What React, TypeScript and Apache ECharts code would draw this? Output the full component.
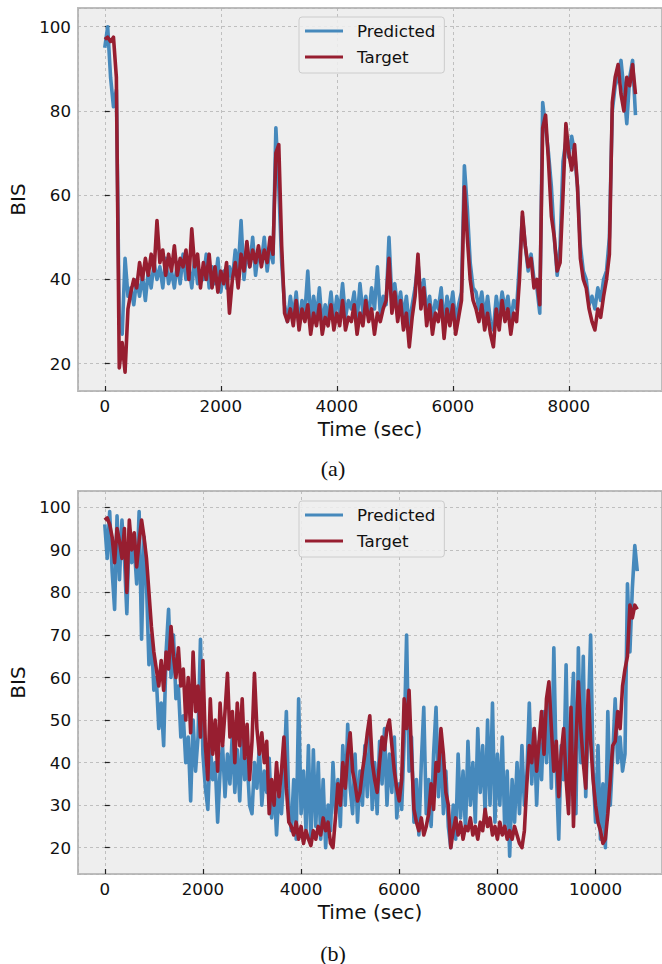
import React, { useEffect, useRef } from 'react';
import * as echarts from 'echarts';

// sampling step (seconds) of the value arrays below
const STEP = 50;

const timeTicksA = [0, 2000, 4000, 6000, 8000];
const timeTicksB = [0, 2000, 4000, 6000, 8000, 10000];
const bisTicksA = [20, 40, 60, 80, 100];
const bisTicksB = [20, 30, 40, 50, 60, 70, 80, 90, 100];
const legendNames = ['Predicted', 'Target'];

// (a) — one value every 50 s, from 0 to 9150 s
const predictedA = [
  95, 100, 88, 81, 85, 30, 27, 45, 36, 38,
  34, 40, 36, 41, 35, 42, 38, 44, 40, 43,
  38, 45, 39, 42, 38, 44, 39, 46, 40, 43,
  38, 45, 39, 42, 40, 46, 38, 43, 39, 45,
  37, 42, 38, 43, 40, 47, 42, 54, 40, 47,
  43, 50, 41, 47, 44, 50, 42, 48, 44, 76,
  62, 44, 34, 30, 36, 31, 37, 29, 35, 32,
  42, 30, 36, 31, 38, 29, 34, 31, 37, 30,
  36, 32, 39, 31, 35, 33, 37, 30, 39, 32,
  36, 31, 38, 33, 43, 32, 36, 34, 50, 35,
  39, 33, 37, 31, 36, 29, 34, 38, 44, 36,
  40, 32, 36, 30, 35, 33, 38, 29, 36, 32,
  37, 30, 34, 37, 67, 57, 44, 38, 37, 33,
  37, 31, 36, 30, 28, 36, 31, 37, 33, 36,
  30, 35, 33, 44, 55, 48, 42, 46, 40, 38,
  32, 82, 76, 70, 62, 50, 41, 48, 68, 73,
  69, 74, 70, 62, 48, 42, 40, 34, 36, 33,
  38, 35, 40, 42, 50, 80, 86, 88, 92, 85,
  77, 88, 92, 79,
];
const targetA = [
  97, 97.5, 96.5, 97.5, 88, 19, 25, 18, 33, 37,
  40, 38, 44, 40, 45, 41, 46, 42, 54, 44,
  47, 41, 46, 42, 48, 41, 45, 43, 47, 40,
  52, 43, 46, 38, 44, 40, 46, 38, 43, 37,
  42, 39, 44, 32, 40, 44, 38, 46, 42, 49,
  43, 47, 44, 48, 43, 47, 44, 50, 46, 70,
  72, 48, 32, 30, 33, 29, 35, 28, 33, 30,
  34, 27, 32, 29, 34, 27, 31, 29, 34, 28,
  32, 29, 35, 28, 31, 30, 34, 27, 32, 29,
  35, 30, 33, 27, 32, 30, 33, 35, 45, 32,
  37, 30, 35, 28, 32, 24, 31, 36, 46, 33,
  38, 29, 34, 27, 32, 30, 35, 26, 33, 29,
  34, 27, 31, 35, 62, 50, 40, 35, 33, 30,
  34, 28, 32, 27, 24, 33, 28, 35, 30, 33,
  27, 32, 30, 40, 56, 48, 43, 45, 38, 40,
  34, 76, 79, 68, 55, 50, 42, 44, 60, 77,
  70, 66, 72, 62, 45, 40, 38, 33, 30, 28,
  33, 31, 36, 40, 46, 82, 88, 91, 84, 80,
  88, 86, 91, 84,
];

// (b) — one value every 50 s, from 0 to 10850 s
const predictedB = [
  96, 88, 99, 85, 76, 98, 83, 97, 88, 75,
  95, 87, 91, 82, 99, 69, 93, 82, 63, 70,
  57, 60, 48, 54, 44, 66, 76, 60, 70, 55,
  58, 46, 51, 40, 46, 31, 50, 38, 46, 69,
  42, 34, 29, 44, 36, 40, 26, 38, 44, 32,
  42, 35, 47, 33, 43, 31, 46, 36, 41, 30,
  28, 40, 34, 44, 30, 38, 33, 41, 27, 35,
  23, 34, 28, 37, 52, 30, 24, 36, 22, 55,
  28, 38, 24, 44, 21, 43, 25, 40, 22, 36,
  20, 30, 24, 40, 28, 36, 25, 44, 30, 49,
  34, 28, 42, 26, 38, 30, 44, 32, 48, 29,
  40, 28, 45, 35, 48, 30, 42, 33, 46, 27,
  35, 29, 45, 70, 38, 46, 26, 36, 23, 40,
  53, 28, 36, 25, 42, 53, 32, 45, 28, 38,
  25, 20, 30, 22, 42, 27, 38, 24, 45, 30,
  40, 26, 48, 33, 44, 28, 50, 30, 54, 26,
  42, 30, 46, 24, 38, 18, 36, 26, 40, 28,
  44, 30, 37, 54, 35, 48, 30, 45, 36, 52,
  40, 56, 34, 67, 38, 22, 44, 36, 63, 30,
  48, 61, 28, 67, 40, 65, 32, 50, 70, 38,
  26, 44, 22, 35, 20, 52, 30, 42, 55, 40,
  46, 38, 42, 82, 66, 81, 91, 85,
];
const targetB = [
  97, 97.5, 96, 93, 87, 95, 92, 88, 95, 80,
  97, 90, 94, 86, 92, 97, 93, 88, 80, 72,
  66, 62, 58, 64, 57, 66, 62, 72, 65, 60,
  67, 58, 62, 50, 60, 47, 66, 52, 58, 46,
  64, 44, 36, 55, 42, 50, 38, 54, 44, 52,
  61, 46, 52, 40, 54, 44, 55, 41, 49, 36,
  45, 61, 48, 42, 47, 40, 45, 28, 36, 30,
  40, 32, 38, 46, 34, 26, 25, 23, 26, 22,
  25, 21, 24, 22, 20.5, 24, 22, 25, 23, 27,
  24, 26, 21, 20, 27, 35, 30, 40, 34, 42,
  47, 38, 35, 31, 33, 38, 42, 47, 51, 40,
  36, 33, 40, 46, 43, 48, 50, 44, 38, 34,
  31, 36, 55, 48, 57, 42, 29, 26, 24, 27,
  23, 25, 28, 35, 29, 40, 38, 48, 42, 33,
  30, 20, 24, 27, 23, 26, 22, 25, 24, 27,
  23, 25, 22, 26, 24, 29, 25, 27, 23, 25,
  22, 26, 23, 25, 22, 24, 22, 25, 23, 21,
  20, 24, 35, 44, 40, 48, 38, 45, 52, 42,
  55, 59, 48, 38, 45, 32, 42, 48, 36, 28,
  53, 25, 44, 59, 48, 40, 34, 57, 45, 36,
  30, 26, 24, 21, 22, 28, 36, 44, 45, 52,
  48, 58, 62, 65, 77, 74, 77, 76,
];

const BLUE = '#4689BC';
const RED = '#971E30';
const FONT = 'DejaVu Sans';

const toPairs = (arr: number[]) => arr.map((v, i) => [i * STEP, v]);

function xAxisFor(gridIndex: number, min: number, max: number, ticks: number[]) {
  return {
    type: 'value',
    gridIndex,
    min,
    max,
    minInterval: 2000,
    maxInterval: 2000,
    name: 'Time (sec)',
    nameLocation: 'middle',
    nameGap: 28,
    nameTextStyle: { fontFamily: FONT, fontSize: 20, color: '#111' },
    axisLine: { show: false },
    axisTick: { show: true, inside: true, length: 5, lineStyle: { color: '#222', width: 1.2 } },
    axisLabel: {
      margin: 6,
      fontFamily: FONT,
      fontSize: 16.7,
      color: '#111',
      showMinLabel: false,
      showMaxLabel: false,
      formatter: (v: number) => (ticks.indexOf(Math.round(v)) >= 0 ? String(Math.round(v)) : ''),
    },
    splitLine: { show: true, lineStyle: { color: '#B2B2B2', type: [3, 3], width: 0.8 } },
  };
}

function yAxisFor(gridIndex: number, min: number, max: number, step: number, ticks: number[]) {
  return {
    type: 'value',
    gridIndex,
    min,
    max,
    minInterval: step,
    maxInterval: step,
    name: 'BIS',
    nameLocation: 'middle',
    nameGap: 45,
    nameTextStyle: { fontFamily: FONT, fontSize: 20, color: '#111' },
    axisLine: { show: false },
    axisTick: { show: true, inside: true, length: 5, lineStyle: { color: '#222', width: 1.2 } },
    axisLabel: {
      margin: 7,
      fontFamily: FONT,
      fontSize: 16.7,
      color: '#111',
      showMinLabel: false,
      showMaxLabel: false,
      formatter: (v: number) => (ticks.indexOf(Math.round(v)) >= 0 ? String(Math.round(v)) : ''),
    },
    splitLine: { show: true, lineStyle: { color: '#B2B2B2', type: [3, 3], width: 0.8 } },
  };
}

function legendFor(top: number) {
  return {
    data: legendNames,
    orient: 'vertical',
    left: 299,
    top,
    icon: 'rect',
    itemWidth: 38,
    itemHeight: 3,
    itemGap: 6,
    padding: [4, 9, 6, 6],
    backgroundColor: 'rgba(238,238,238,0.85)',
    borderColor: '#CCCCCC',
    borderWidth: 1,
    borderRadius: 3,
    selectedMode: false,
    textStyle: {
      fontFamily: FONT,
      fontSize: 16.7,
      color: '#111',
      lineHeight: 20,
      padding: [0, 0, 0, 9],
    },
  };
}

function lineSeries(name: string, data: number[], color: string, idx: number) {
  return {
    name,
    type: 'line',
    xAxisIndex: idx,
    yAxisIndex: idx,
    data: toPairs(data),
    showSymbol: false,
    symbol: 'none',
    lineStyle: { color, width: 3.6, join: 'round' },
    itemStyle: { color },
    emphasis: { disabled: true },
  };
}

export default function App() {
  const ref = useRef<HTMLDivElement>(null);

  useEffect(() => {
    if (!ref.current) return;
    const chart = echarts.init(ref.current, undefined, { renderer: 'svg' });
    const gridStyle = {
      show: true,
      backgroundColor: '#EEEEEE',
      borderColor: '#BCBCBC',
      borderWidth: 2,
    };
    chart.setOption({
      animation: false,
      textStyle: { fontFamily: FONT },
      grid: [
        { ...gridStyle, left: 78, top: 8, width: 589, height: 383 },
        { ...gridStyle, left: 78, top: 491, width: 589, height: 383 },
      ],
      xAxis: [
        xAxisFor(0, -461.5, 9607, timeTicksA),
        xAxisFor(1, -545.5, 11354, timeTicksB),
      ],
      yAxis: [
        yAxisFor(0, 13.52, 104.44, 20, bisTicksA),
        yAxisFor(1, 13.82, 103.83, 10, bisTicksB),
      ],
      legend: [legendFor(17), legendFor(501)],
      series: [
        lineSeries('Predicted', predictedA, BLUE, 0),
        lineSeries('Target', targetA, RED, 0),
        lineSeries('Predicted', predictedB, BLUE, 1),
        lineSeries('Target', targetB, RED, 1),
      ],
      graphic: [
        {
          type: 'text',
          x: 333,
          y: 468,
          style: {
            text: '(a)',
            align: 'center',
            verticalAlign: 'middle',
            fontFamily: 'Liberation Serif',
            fontSize: 22,
            fill: '#111',
          },
        },
        {
          type: 'text',
          x: 333,
          y: 953,
          style: {
            text: '(b)',
            align: 'center',
            verticalAlign: 'middle',
            fontFamily: 'Liberation Serif',
            fontSize: 22,
            fill: '#111',
          },
        },
      ],
    });
    return () => chart.dispose();
  }, []);

  return (
    <div
      ref={ref}
      style={{ position: 'absolute', left: 0, top: 0, width: 662, height: 964, background: '#fff' }}
    />
  );
}
